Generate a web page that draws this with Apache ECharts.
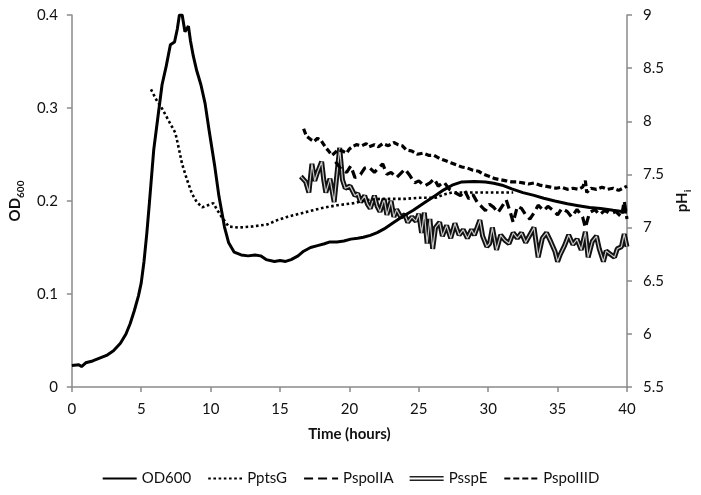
<!DOCTYPE html>
<html>
<head>
<meta charset="utf-8">
<script src="https://cdn.jsdelivr.net/npm/echarts@6/dist/echarts.min.js"></script>
<style>html,body{margin:0;padding:0;background:#fff}#c{width:701px;height:495px}</style>
</head>
<body>
<div id="c"></div>
<script>
// ---- data ----
var xTicks = [0, 40, 5];          // min, max, interval (hours)
var odTicks = [0, 0.4, 0.1];
var phTicks = [5.5, 9, 0.5];
var legendNames = ['OD600', 'PptsG', 'PspoIIA', 'PsspE', 'PspoIIID'];

var odTime = [0,0.5,0.7,1.0,1.5,2.0,2.5,3.0,3.5,3.9,4.2,4.5,4.8,5.0,5.2,5.4,5.6,5.9,6.2,6.5,6.8,7.1,7.4,7.6,7.75,7.95,8.15,8.4,8.55,8.75,9.0,9.3,9.6,9.9,10.3,10.6,11.0,11.3,11.7,12.2,12.7,13.2,13.6,14.0,14.6,15.0,15.4,15.8,16.3,16.7,17.2,17.7,18.2,18.6,19.1,19.6,20.1,20.6,21.0,21.5,22.0,22.5,23.1,23.8,24.6,25.4,26.2,26.8,27.4,28.1,29.0,29.8,30.4,31.0,31.7,32.5,33.3,34.0,34.8,35.7,36.5,37.3,38.1,39.0,40.0];
var odValue = [0.023,0.024,0.022,0.026,0.028,0.031,0.034,0.039,0.047,0.057,0.068,0.082,0.098,0.112,0.135,0.165,0.2,0.255,0.29,0.325,0.345,0.368,0.371,0.385,0.400,0.400,0.382,0.388,0.372,0.356,0.34,0.325,0.305,0.275,0.237,0.205,0.172,0.155,0.145,0.142,0.141,0.142,0.141,0.137,0.135,0.136,0.135,0.137,0.141,0.146,0.15,0.152,0.154,0.156,0.156,0.157,0.159,0.16,0.161,0.163,0.166,0.17,0.176,0.183,0.19,0.198,0.206,0.212,0.217,0.2205,0.221,0.2205,0.219,0.217,0.213,0.209,0.206,0.203,0.2,0.197,0.195,0.193,0.192,0.19,0.188];

var ptsTime = [5.7,6.1,6.5,7.0,7.46,7.7,7.94,8.3,8.65,9.0,9.4,9.8,10.2,10.5,10.8,11.3,12.0,13.0,14.1,14.8,15.5,16.7,17.9,19.1,20.3,21.3,22.2,23.1,24.0,25.0,26.2,26.8,27.4,28.5,29.6,30.7,31.8];
var ptsValue = [8.30,8.2,8.12,8.0,7.89,7.75,7.60,7.45,7.32,7.24,7.19,7.21,7.23,7.16,7.10,7.01,7.00,7.01,7.03,7.07,7.10,7.14,7.18,7.21,7.23,7.26,7.27,7.27,7.27,7.28,7.28,7.31,7.33,7.33,7.33,7.33,7.33];

var spoIIATime = [19.0,19.4,19.8,20.1,20.4,20.8,21.1,21.4,21.8,22.1,22.4,22.7,23.0,23.4,23.7,24.0,24.3,24.7,25.0,25.4,25.8,26.1,26.4,26.8,27.2,27.6,28.0,28.3,28.6,28.9,29.2,29.5,29.8,30.1,30.4,30.7,31.0,31.3,31.6,31.8,32.1,32.4,32.7,33.0,33.3,33.6,34.0,34.3,34.6,35.0,35.3,35.7,36.0,36.4,36.8,37.0,37.3,37.7,38.0,38.4,38.8,39.2,39.6,39.8,40.0];
var spoIIAValue = [7.62,7.55,7.52,7.58,7.47,7.50,7.56,7.57,7.52,7.56,7.6,7.5,7.52,7.47,7.51,7.55,7.5,7.42,7.44,7.39,7.42,7.46,7.39,7.43,7.36,7.33,7.3,7.35,7.27,7.31,7.24,7.2,7.16,7.22,7.19,7.14,7.2,7.26,7.14,7.05,7.2,7.18,7.12,7.08,7.14,7.21,7.16,7.2,7.17,7.12,7.18,7.15,7.1,7.17,7.1,7.0,7.14,7.17,7.12,7.16,7.13,7.15,7.1,7.25,7.08];

var sspETime = [16.5,16.85,17.08,17.3,17.5,17.7,18.0,18.15,18.3,18.6,18.9,19.1,19.3,19.5,19.7,20.05,20.4,20.6,20.8,21.1,21.3,21.5,21.8,22.0,22.2,22.5,22.7,23.0,23.2,23.4,23.7,24.0,24.2,24.5,24.8,25.0,25.2,25.4,25.6,25.8,26.0,26.2,26.5,26.7,27.0,27.3,27.6,27.9,28.2,28.5,28.8,29.0,29.4,29.6,29.9,30.1,30.3,30.6,30.9,31.2,31.5,31.8,32.1,32.4,32.7,33.0,33.3,33.6,33.9,34.2,34.5,34.8,35.0,35.2,35.5,35.8,36.1,36.4,36.7,37.0,37.2,37.5,37.8,38.0,38.3,38.5,38.8,39.1,39.3,39.6,39.8,40.0];
var sspEValue = [7.48,7.43,7.33,7.6,7.44,7.52,7.62,7.45,7.33,7.46,7.24,7.5,7.75,7.45,7.37,7.39,7.3,7.32,7.24,7.3,7.22,7.18,7.3,7.2,7.15,7.27,7.12,7.25,7.1,7.17,7.1,7.12,7.05,7.1,7.06,7.13,6.95,7.14,6.85,7.08,6.8,7.0,7.05,6.92,7.02,6.9,7.04,6.93,6.98,6.9,6.98,6.93,7.07,6.92,6.82,6.85,7.0,6.79,6.93,6.88,6.85,6.95,6.9,6.95,6.86,6.93,7.0,6.72,6.9,6.95,6.87,6.78,6.68,6.75,6.83,6.93,6.84,6.89,6.79,6.96,6.72,6.87,6.92,6.8,6.68,6.78,6.75,6.72,6.8,6.82,6.94,6.82];

var spoIIIDTime = [16.7,16.9,17.2,17.45,17.7,17.95,18.25,18.5,18.75,19.0,19.2,19.5,19.8,20.0,20.2,20.5,20.9,21.2,21.4,21.8,22.1,22.4,22.8,23.2,23.5,23.8,24.1,24.5,24.9,25.3,25.7,26.1,26.5,26.9,27.3,27.7,28.1,28.5,28.9,29.3,29.7,30.1,30.5,30.9,31.3,31.7,32.1,32.5,32.9,33.3,33.7,34.1,34.5,34.9,35.3,35.7,36.1,36.5,36.8,37.0,37.1,37.4,37.8,38.2,38.6,39.0,39.4,39.7,40.0];
var spoIIIDValue = [7.93,7.86,7.83,7.81,7.84,7.82,7.76,7.72,7.68,7.71,7.73,7.72,7.70,7.74,7.76,7.78,7.77,7.79,7.76,7.78,7.76,7.79,7.77,7.8,7.78,7.77,7.73,7.72,7.69,7.7,7.68,7.68,7.65,7.63,7.61,7.59,7.57,7.56,7.54,7.53,7.5,7.48,7.46,7.45,7.44,7.43,7.43,7.42,7.41,7.42,7.4,7.39,7.38,7.37,7.38,7.36,7.37,7.36,7.38,7.44,7.33,7.37,7.36,7.38,7.36,7.37,7.35,7.37,7.39];

function zip(a, b) { return a.map(function (t, i) { return [t, b[i]]; }); }

var FONT = 'Lato, "Open Sans", sans-serif';
var AXC = '#8a8a8a';
var TXT = '#111111';
var FS = 15;

var chart = echarts.init(document.getElementById('c'), null, {renderer: 'canvas'});
var axisCommon = {
  axisLine: {show: true, lineStyle: {color: AXC, width: 1.5}},
  axisTick: {show: true, inside: false, length: 5, lineStyle: {color: AXC, width: 1.5}},
  splitLine: {show: false}
};
var hideSym = {opacity: 0};
var nameRich = {
  a: {fontFamily: FONT, fontSize: FS, fontWeight: 'bold', color: TXT, verticalAlign: 'bottom'},
  b: {fontFamily: FONT, fontSize: 10, fontWeight: 'bold', color: TXT, verticalAlign: 'bottom', padding: [0, 0, -3, 0]}
};
chart.setOption({
  animation: false,
  backgroundColor: '#fff',
  grid: {left: 65, right: 74, top: 15, bottom: 108, containLabel: false},
  legend: {
    top: 466, left: 'center',
    itemWidth: 34, itemHeight: 5, itemGap: 16,
    textStyle: {fontFamily: FONT, fontSize: FS, color: TXT},
    data: [
      {name: legendNames[0], itemStyle: hideSym},
      {name: legendNames[1], itemStyle: hideSym},
      {name: legendNames[2], itemStyle: hideSym},
      {name: legendNames[3], icon: 'path://M0,0H34V1.4H0Z M0,3.6H34V5H0Z', itemStyle: {color: '#222', borderWidth: 0}},
      {name: legendNames[4], itemStyle: hideSym}
    ]
  },
  xAxis: Object.assign({
    type: 'value', min: xTicks[0], max: xTicks[1], interval: xTicks[2],
    name: 'Time (hours)', nameLocation: 'middle', nameGap: 40,
    nameTextStyle: {fontFamily: FONT, fontSize: FS, fontWeight: 'bold', color: TXT},
    axisLabel: {fontFamily: FONT, fontSize: FS, color: TXT, margin: 15}
  }, axisCommon),
  yAxis: [
    Object.assign({
      type: 'value', min: odTicks[0], max: odTicks[1], interval: odTicks[2], position: 'left',
      name: '{a|OD}{b|600}', nameLocation: 'middle', nameGap: 37, nameRotate: 90,
      nameTextStyle: {rich: nameRich},
      axisLabel: {fontFamily: FONT, fontSize: FS, color: TXT, margin: 14}
    }, axisCommon),
    Object.assign({
      type: 'value', min: phTicks[0], max: phTicks[1], interval: phTicks[2], position: 'right',
      name: '{a|pH}{b|i}', nameLocation: 'middle', nameGap: 42, nameRotate: 90,
      nameTextStyle: {rich: nameRich},
      axisLabel: {fontFamily: FONT, fontSize: FS, color: TXT, margin: 16}
    }, axisCommon)
  ],
  series: [
    {name: 'OD600', type: 'line', yAxisIndex: 0, symbol: 'none', data: zip(odTime, odValue),
     lineStyle: {color: '#000', width: 3}, itemStyle: {color: '#000'}, z: 5},
    {name: 'PptsG', type: 'line', yAxisIndex: 1, symbol: 'none', data: zip(ptsTime, ptsValue),
     lineStyle: {color: '#000', width: 2.6, type: [2.6, 2.6]}, itemStyle: {color: '#000'}, z: 3},
    {name: 'PspoIIA', type: 'line', yAxisIndex: 1, symbol: 'none', data: zip(spoIIATime, spoIIAValue),
     lineStyle: {color: '#000', width: 3.2, type: [9, 5]}, itemStyle: {color: '#000'}, z: 3},
    {name: 'PsspE', type: 'line', yAxisIndex: 1, symbol: 'none', data: zip(sspETime, sspEValue),
     lineStyle: {color: '#111', width: 5}, itemStyle: {color: '#111'}, z: 2},
    {name: 'PsspE', type: 'line', yAxisIndex: 1, symbol: 'none', data: zip(sspETime, sspEValue),
     lineStyle: {color: '#c8c8c8', width: 1.2}, itemStyle: {color: '#c8c8c8'}, z: 2},
    {name: 'PspoIIID', type: 'line', yAxisIndex: 1, symbol: 'none', data: zip(spoIIIDTime, spoIIIDValue),
     lineStyle: {color: '#000', width: 3.2, type: [6, 3]}, itemStyle: {color: '#000'}, z: 3}
  ]
});
</script>
</body>
</html>
